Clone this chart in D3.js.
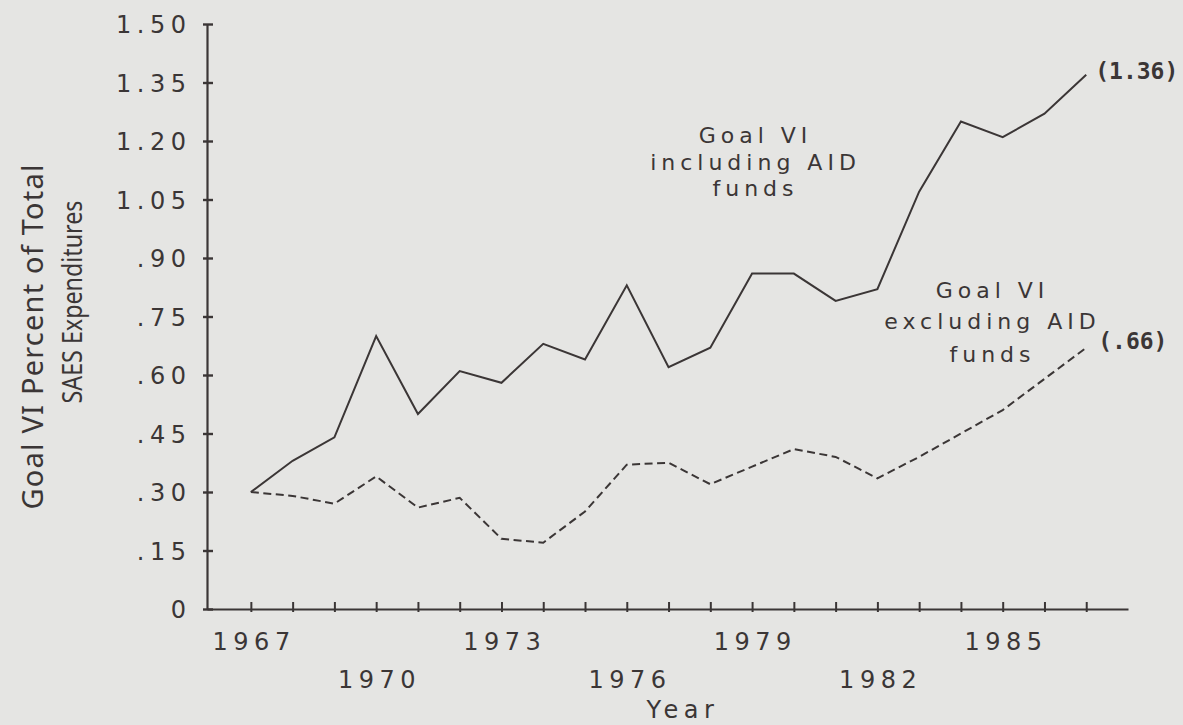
<!DOCTYPE html>
<html>
<head>
<meta charset="utf-8">
<script src="https://cdn.jsdelivr.net/npm/d3@7"></script>
<style>
  html, body { margin: 0; padding: 0; background: #e5e5e3; }
  svg { display: block; }
  .tickLabel { font-family: "DejaVu Sans", sans-serif; font-size: 24px; letter-spacing: 5.5px; fill: #3b3636; }
  .annot { font-family: "DejaVu Sans", sans-serif; font-size: 22px; letter-spacing: 5px; fill: #3b3636; }
  .endLbl { font-family: "DejaVu Sans Mono", monospace; font-size: 23px; font-weight: bold; fill: #3b3636; }
  .ttl { font-family: "Noto Sans", sans-serif; fill: #3b3636; }
</style>
</head>
<body>
<div id="chartHolder"></div>
<script>
// data
const years = d3.range(1967, 1988);
const inclAid = [0.30, 0.38, 0.44, 0.70, 0.50, 0.61, 0.58, 0.68, 0.64, 0.83,
                 0.62, 0.67, 0.86, 0.86, 0.79, 0.82, 1.07, 1.25, 1.21, 1.27, 1.37];
const exclAid = [0.30, 0.29, 0.27, 0.34, 0.26, 0.285, 0.18, 0.17, 0.25, 0.37,
                 0.375, 0.32, 0.365, 0.41, 0.39, 0.335, 0.39, 0.45, 0.51, 0.59, 0.67];
const yTicks = [0, 0.15, 0.30, 0.45, 0.60, 0.75, 0.90, 1.05, 1.20, 1.35, 1.50];
const xLabelYears = [1967, 1970, 1973, 1976, 1979, 1982, 1985];
const inclNote = ["Goal VI", "including AID", "funds"];
const exclNote = ["Goal VI", "excluding AID", "funds"];
const endLabels = ["(1.36)", "(.66)"];
const yTitle = ["Goal VI Percent of Total", "SAES Expenditures"];
const xTitle = "Year";

const w = 1183;
const h = 725;
const ink = "#3b3636";

const svg = d3.select("#chartHolder").append("svg")
  .attr("width", w)
  .attr("height", h);

const x = d3.scaleLinear()
  .domain([1965.95, 1988])
  .range([207, 1128]);
const y = d3.scaleLinear()
  .domain([0, 1.5])
  .range([609, 24]);

// x axis: line + small tick at each year
const xAxisG = svg.append("g")
  .attr("transform", "translate(0," + y(0) + ")")
  .call(d3.axisBottom(x).tickValues(years).tickSizeOuter(0).tickFormat(""));
xAxisG.select(".domain").attr("stroke", ink).attr("stroke-width", 2.2);
xAxisG.selectAll(".tick line")
  .attr("y1", -7).attr("y2", 3)
  .attr("stroke", ink).attr("stroke-width", 2);

// x labels staggered on two rows
const xLblG = svg.append("g")
  .attr("transform", "translate(0," + y(0) + ")")
  .call(d3.axisBottom(x).tickValues(xLabelYears).tickSize(0).tickFormat(d3.format("d")));
xLblG.select(".domain").remove();
xLblG.selectAll(".tick text")
  .attr("class", "tickLabel")
  .attr("font-family", null).attr("font-size", null).attr("fill", null)
  .attr("dy", 0)
  .attr("dx", 2.75)
  .attr("y", (d, i) => i % 2 === 0 ? 41 : 79);

// y axis
const yAxisG = svg.append("g")
  .attr("transform", "translate(" + x.range()[0] + ",0)")
  .call(d3.axisLeft(y).tickValues(yTicks).tickSizeOuter(0)
    .tickFormat(d => d === 0 ? "0" : d3.format(".2f")(d).replace(/^0/, "")));
yAxisG.select(".domain").attr("stroke", ink).attr("stroke-width", 2.2);
yAxisG.selectAll(".tick line")
  .attr("x1", -4).attr("x2", 6)
  .attr("stroke", ink).attr("stroke-width", 2.4);
yAxisG.selectAll(".tick text")
  .attr("class", "tickLabel")
  .attr("font-family", null).attr("font-size", null).attr("fill", null)
  .attr("x", -15.5)
  .attr("dy", "0.36em");

// lines
const line = d3.line()
  .x((d, i) => x(years[i]))
  .y(d => y(d));

svg.append("path")
  .datum(inclAid)
  .attr("d", line)
  .attr("fill", "none")
  .attr("stroke", ink)
  .attr("stroke-width", 2)
  .attr("stroke-linejoin", "miter");

svg.append("path")
  .datum(exclAid)
  .attr("d", line)
  .attr("fill", "none")
  .attr("stroke", ink)
  .attr("stroke-width", 2)
  .attr("stroke-dasharray", "8,4.5");

// value labels at the end of each line
const lastYear = years[years.length - 1];
[inclAid, exclAid].forEach((s, k) => {
  svg.append("text")
    .attr("class", "endLbl")
    .attr("x", x(lastYear) + 9 + k * 3)
    .attr("y", y(s[s.length - 1]) + 4 - k * 3)
    .text(endLabels[k]);
});

// notes beside the lines
function note(lines, cx, baselines) {
  svg.append("g").selectAll("text")
    .data(lines)
    .enter()
    .append("text")
    .attr("class", "annot")
    .attr("text-anchor", "middle")
    .attr("x", cx + 2.5)
    .attr("y", (d, i) => baselines[i])
    .text(d => d);
}
note(inclNote, 753, [143, 170, 196]);
note(exclNote, 990, [298, 329, 362]);

// axis titles
svg.append("text")
  .attr("class", "ttl")
  .attr("font-size", 29)
  .attr("text-anchor", "middle")
  .attr("transform", "translate(43, 337)rotate(-90)")
  .attr("textLength", 345)
  .attr("lengthAdjust", "spacing")
  .text(yTitle[0]);
svg.append("text")
  .attr("class", "ttl")
  .attr("font-size", 27)
  .attr("text-anchor", "middle")
  .attr("transform", "translate(82, 302)rotate(-90)")
  .attr("textLength", 203)
  .attr("lengthAdjust", "spacingAndGlyphs")
  .text(yTitle[1]);
svg.append("text")
  .attr("class", "tickLabel")
  .attr("font-size", 22)
  .attr("letter-spacing", 4)
  .attr("text-anchor", "middle")
  .attr("x", 683)
  .attr("y", 718)
  .text(xTitle);
</script>
</body>
</html>
